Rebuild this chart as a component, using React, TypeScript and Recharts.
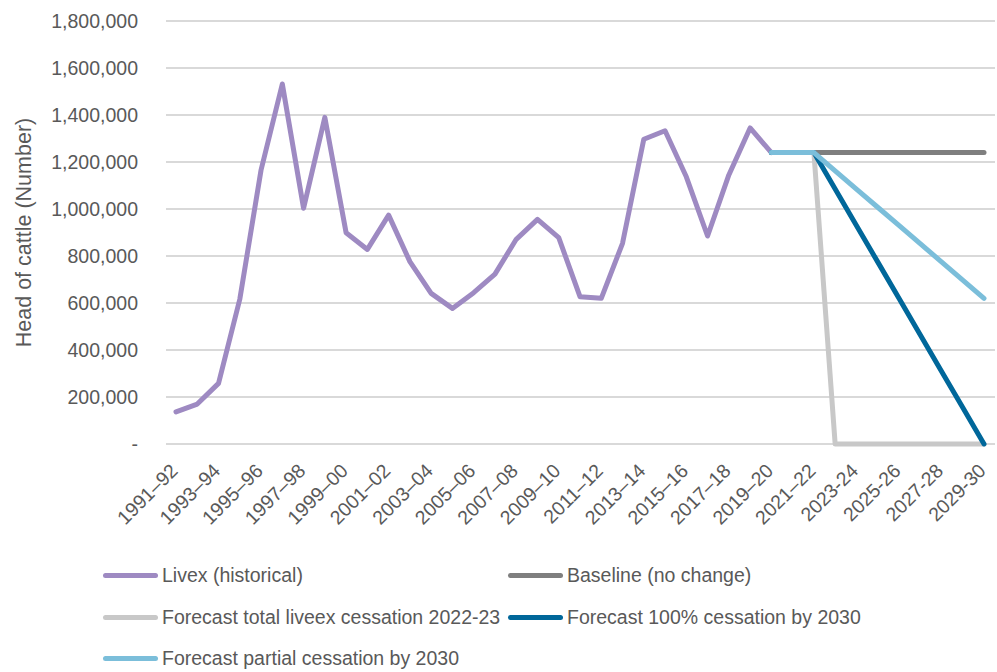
import React from 'react';
import { LineChart, Line, XAxis, YAxis, CartesianGrid, Legend, Label } from 'recharts';

if (typeof document !== 'undefined') {
  document.body.style.margin = '0';
}

const years = [
  '1991–92', '1992–93', '1993–94', '1994–95', '1995–96', '1996–97', '1997–98', '1998–99',
  '1999–00', '2000–01', '2001–02', '2002–03', '2003–04', '2004–05', '2005–06', '2006–07',
  '2007–08', '2008–09', '2009–10', '2010–11', '2011–12', '2012–13', '2013–14', '2014–15',
  '2015–16', '2016–17', '2017–18', '2018–19', '2019–20', '2020–21', '2021–22', '2022-23',
  '2023-24', '2024-25', '2025-26', '2026-27', '2027-28', '2028-29', '2029-30',
];

const livex = [
  137000, 170000, 258000, 616000, 1166000, 1532000, 1003000, 1390000, 899000, 828000,
  974000, 776000, 641000, 577000, 644000, 723000, 871000, 956000, 878000, 627000,
  620000, 854000, 1297000, 1333000, 1137000, 885000, 1145000, 1345000, 1240000, null,
  null, null, null, null, null, null, null, null, null,
];

const baseline = [
  null, null, null, null, null, null, null, null, null, null,
  null, null, null, null, null, null, null, null, null, null,
  null, null, null, null, null, null, null, null, 1240000, 1240000,
  1240000, 1240000, 1240000, 1240000, 1240000, 1240000, 1240000, 1240000, 1240000,
];

const totalCessation = [
  null, null, null, null, null, null, null, null, null, null,
  null, null, null, null, null, null, null, null, null, null,
  null, null, null, null, null, null, null, null, 1240000, 1240000,
  1240000, 0, 0, 0, 0, 0, 0, 0, 0,
];

const fullCessation = [
  null, null, null, null, null, null, null, null, null, null,
  null, null, null, null, null, null, null, null, null, null,
  null, null, null, null, null, null, null, null, 1240000, 1240000,
  1240000, 1085000, 930000, 775000, 620000, 465000, 310000, 155000, 0,
];

const partialCessation = [
  null, null, null, null, null, null, null, null, null, null,
  null, null, null, null, null, null, null, null, null, null,
  null, null, null, null, null, null, null, null, 1240000, 1240000,
  1240000, 1162500, 1085000, 1007500, 930000, 852500, 775000, 697500, 620000,
];

const yTicks = [0, 200000, 400000, 600000, 800000, 1000000, 1200000, 1400000, 1600000, 1800000];

const data = years.map((year, i) => ({
  year,
  livex: livex[i],
  baseline: baseline[i],
  total: totalCessation[i],
  full: fullCessation[i],
  partial: partialCessation[i],
}));

const FONT = '"Liberation Sans", Arial, sans-serif';
const TEXT = '#595959';
const FS = 19.5;

const XTick = (props: any) => {
  const { x, payload } = props;
  const ax = x + 3;
  const ay = 472;
  return (
    <text
      x={ax}
      y={ay}
      transform={`rotate(-45, ${ax}, ${ay})`}
      textAnchor="end"
      fill={TEXT}
      fontSize={FS}
      fontFamily={FONT}
    >
      {payload.value}
    </text>
  );
};

const formatY = (v: number) => (v === 0 ? '-' : v.toLocaleString('en-US'));

const legendItems = [
  { key: 'livex', name: 'Livex (historical)', color: '#9E8AC2' },
  { key: 'baseline', name: 'Baseline (no change)', color: '#7F7F7F' },
  { key: 'total', name: 'Forecast total liveex cessation 2022-23', color: '#C8C8C8' },
  { key: 'full', name: 'Forecast 100% cessation by 2030', color: '#00679A' },
  { key: 'partial', name: 'Forecast partial cessation by 2030', color: '#7BBEDA' },
];

const renderLegend = () => (
  <div style={{ display: 'flex', flexWrap: 'wrap', paddingLeft: 103, fontFamily: FONT, fontSize: FS, color: TEXT }}>
    {legendItems.map(item => (
      <div key={item.key} style={{ width: 405, height: 41.5, display: 'flex', alignItems: 'center' }}>
        <div style={{ width: 55, height: 5, borderRadius: 3, backgroundColor: item.color, marginRight: 4 }}></div>
        <span style={{ whiteSpace: 'nowrap' }}>{item.name}</span>
      </div>
    ))}
  </div>
);

export default function App() {
  return (
    <LineChart
      width={997}
      height={672}
      data={data}
      margin={{ top: 21, right: 2, left: 0, bottom: 0 }}
      style={{ fontFamily: FONT }}
    >
      <CartesianGrid vertical={false} stroke="#D9D9D9" strokeWidth={2} />
      <XAxis
        dataKey="year"
        interval={1}
        tick={<XTick />}
        tickLine={false}
        axisLine={false}
        height={103.5}
        padding={{ left: 10, right: 11 }}
      />
      <YAxis
        width={166}
        domain={[0, 1800000]}
        ticks={yTicks}
        tickFormatter={formatY}
        tickLine={false}
        axisLine={false}
        tickMargin={22}
        tick={{ fill: TEXT, fontSize: FS, fontFamily: FONT }}
        interval={0}
      >
        <Label
          content={(props: any) => {
            const vb = props.viewBox || {};
            const cy = (vb.y || 21) + (vb.height || 423) / 2;
            return (
              <text
                x={31}
                y={cy}
                transform={`rotate(-90, 31, ${cy})`}
                textAnchor="middle"
                fill={TEXT}
                fontSize={21.5}
                fontFamily={FONT}
              >
                Head of cattle (Number)
              </text>
            );
          }}
        />
      </YAxis>
      <Legend
        verticalAlign="bottom"
        content={renderLegend}
        wrapperStyle={{ left: 0, top: 555, width: 997 }}
      />
      <Line dataKey="livex" stroke="#9E8AC2" strokeWidth={5} dot={false} strokeLinecap="round" strokeLinejoin="round" isAnimationActive={false} />
      <Line dataKey="baseline" stroke="#7F7F7F" strokeWidth={5} dot={false} strokeLinecap="round" strokeLinejoin="round" isAnimationActive={false} />
      <Line dataKey="total" stroke="#C8C8C8" strokeWidth={5} dot={false} strokeLinecap="round" strokeLinejoin="round" isAnimationActive={false} />
      <Line dataKey="full" stroke="#00679A" strokeWidth={5} dot={false} strokeLinecap="round" strokeLinejoin="round" isAnimationActive={false} />
      <Line dataKey="partial" stroke="#7BBEDA" strokeWidth={5} dot={false} strokeLinecap="round" strokeLinejoin="round" isAnimationActive={false} />
    </LineChart>
  );
}
